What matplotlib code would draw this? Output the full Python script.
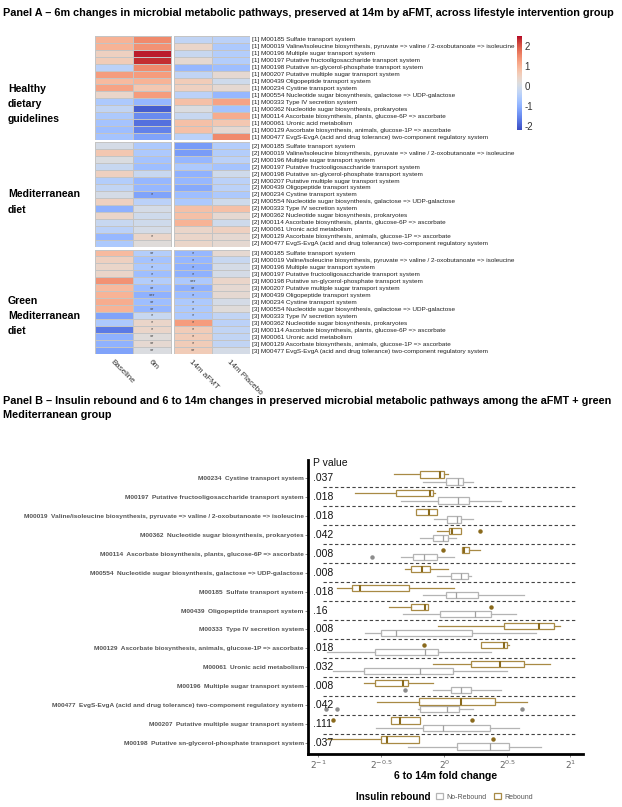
import numpy as np
import matplotlib
matplotlib.use('Agg')
import matplotlib.pyplot as plt
from matplotlib.patches import Patch
from matplotlib.colors import Normalize
from matplotlib.cm import ScalarMappable

plt.rcParams['font.family'] = ['Liberation Sans', 'DejaVu Sans']

# ---------------- data ----------------
modules = ["M00185", "M00019", "M00196", "M00197", "M00198", "M00207", "M00439", "M00234",
           "M00554", "M00333", "M00362", "M00114", "M00061", "M00129", "M00477"]
names = ["Sulfate transport system",
         "Valine/isoleucine biosynthesis, pyruvate => valine / 2-oxobutanoate => isoleucine",
         "Multiple sugar transport system",
         "Putative fructooligosaccharide transport system",
         "Putative sn-glycerol-phosphate transport system",
         "Putative multiple sugar transport system",
         "Oligopeptide transport system",
         "Cystine transport system",
         "Nucleotide sugar biosynthesis, galactose => UDP-galactose",
         "Type IV secretion system",
         "Nucleotide sugar biosynthesis, prokaryotes",
         "Ascorbate biosynthesis, plants, glucose-6P => ascorbate",
         "Uronic acid metabolism",
         "Ascorbate biosynthesis, animals, glucose-1P => ascorbate",
         "EvgS-EvgA (acid and drug tolerance) two-component regulatory system"]
group_labels = ["Healthy\ndietary\nguidelines", "Mediterranean\ndiet", "Green\nMediterranean\ndiet"]
columns = ["Baseline", "6m", "14m aFMT", "14m Placebo"]

# heatmap values: Baseline, 6m, 14m aFMT, 14m Placebo
hm_group1 = [
    [1.0, 1.5, -0.3, -0.4],
    [1.0, 1.4, 0.4, -0.6],
    [0.5, 2.4, -0.2, -0.5],
    [0.6, 2.3, 0.3, -0.5],
    [-0.4, 1.5, -0.9, -0.8],
    [1.3, 1.3, -0.3, 0.3],
    [0.9, 1.0, 0.6, -0.1],
    [1.2, 0.7, 0.5, 0.3],
    [0.4, 1.3, -0.4, -0.9],
    [-0.6, -0.9, 0.8, 1.2],
    [-0.3, -2.0, 0.1, -0.7],
    [-0.6, -1.5, -0.2, 1.1],
    [-0.7, -1.8, 0.8, 0.7],
    [-0.8, -1.6, 0.8, 0.3],
    [-0.7, -1.2, -0.4, 1.5],
]
hm_group2 = [
    [0.0, -0.6, -1.3, -0.5],
    [0.7, -0.6, -1.3, -0.5],
    [0.1, -0.7, -0.9, -0.4],
    [-0.2, -0.8, -0.6, -0.7],
    [0.5, -0.2, -1.0, -0.1],
    [-0.5, -0.9, -0.9, -0.4],
    [-0.3, -0.9, -1.1, -0.4],
    [0.0, -1.2, -0.8, -0.6],
    [0.5, -0.4, -0.6, -0.1],
    [-1.0, 0.0, 0.8, 0.8],
    [0.4, -0.1, 0.8, 0.3],
    [-0.2, -0.1, 1.0, -0.1],
    [-0.4, 0.0, 0.4, 0.5],
    [-0.9, 0.4, 0.4, 0.3],
    [-0.6, 0.2, 0.4, 0.3],
]
hm_group3 = [
    [0.9, -0.5, -0.9, 0.3],
    [0.5, -0.7, -0.9, -0.2],
    [0.4, -0.6, -1.0, 0.0],
    [0.4, -0.8, -1.0, 0.0],
    [1.4, -0.5, -0.6, 0.4],
    [0.9, -0.8, -1.0, 0.3],
    [1.0, -1.0, -0.8, 0.3],
    [1.1, -0.8, -0.6, 0.0],
    [1.0, -0.9, -0.6, 0.2],
    [-1.2, -0.2, -0.6, -0.3],
    [-0.6, 0.4, 1.3, -0.4],
    [-1.7, 0.4, 0.6, -0.3],
    [-1.0, 0.2, 0.6, -0.3],
    [-1.0, 0.3, 0.6, -0.3],
    [-1.2, 0.1, 0.6, 0.0],
]
# significance marks (6m, 14m aFMT)
stars_group1 = [("", "")] * 15
stars_group2 = [("", ""), ("", ""), ("", ""), ("", ""), ("", ""), ("", ""), ("", ""), ("*", ""),
                ("", ""), ("", ""), ("", ""), ("", ""), ("", ""), ("*", ""), ("", "")]
stars_group3 = [("**", "*"), ("*", "*"), ("*", "*"), ("*", "*"), ("*", "***"), ("**", "**"),
                ("***", "*"), ("**", "*"), ("**", "*"), ("*", "*"), ("*", "*"), ("*", "*"),
                ("**", "*"), ("**", "*"), ("**", "**")]

# Panel B
b_modules = ["M00234", "M00197", "M00019", "M00362", "M00114", "M00554", "M00185", "M00439",
             "M00333", "M00129", "M00061", "M00196", "M00477", "M00207", "M00198"]
p_values = [".037", ".018", ".018", ".042", ".008", ".008", ".018", ".16", ".008", ".018",
            ".032", ".008", ".042", ".111", ".037"]
# log2 fold change: whisker low, q1, median, q3, whisker high
rebound_stats = [
    [-0.40, -0.19, -0.03, 0.00, 0.03],
    [-0.71, -0.38, -0.11, -0.09, -0.07],
    [-0.22, -0.22, -0.12, -0.06, -0.06],
    [-0.06, 0.04, 0.06, 0.13, 0.13],
    [0.14, 0.14, 0.16, 0.20, 0.28],
    [-0.31, -0.26, -0.18, -0.11, 0.03],
    [-0.85, -0.73, -0.67, -0.28, 0.08],
    [-0.44, -0.26, -0.15, -0.13, -0.13],
    [-0.05, 0.47, 0.75, 0.87, 0.92],
    [0.29, 0.29, 0.47, 0.50, 0.51],
    [-0.09, 0.21, 0.44, 0.63, 0.84],
    [-0.64, -0.55, -0.33, -0.29, -0.09],
    [-0.53, -0.20, 0.13, 0.40, 0.66],
    [-0.42, -0.42, -0.35, -0.19, -0.19],
    [-0.93, -0.50, -0.45, -0.20, -0.20],
]
rebound_outliers = [[], [], [], [0.28], [-0.01], [], [], [0.37], [], [-0.16], [], [], [],
                    [-0.88, 0.22], [0.39]]
norebound_stats = [
    [-0.17, 0.01, 0.11, 0.15, 0.23],
    [-0.34, -0.05, 0.11, 0.20, 0.45],
    [-0.08, 0.02, 0.10, 0.13, 0.23],
    [-0.19, -0.09, -0.01, 0.03, 0.09],
    [-0.34, -0.25, -0.16, -0.06, 0.08],
    [-0.06, 0.05, 0.13, 0.19, 0.21],
    [-0.17, 0.01, 0.09, 0.27, 0.63],
    [-0.33, -0.03, 0.24, 0.37, 0.57],
    [-0.63, -0.50, -0.38, 0.22, 0.73],
    [-0.93, -0.55, -0.15, -0.05, 0.37],
    [-0.88, -0.64, -0.19, 0.07, 0.50],
    [-0.09, 0.05, 0.13, 0.21, 0.45],
    [-0.21, -0.19, 0.02, 0.12, 0.23],
    [-0.54, -0.17, -0.01, 0.36, 0.59],
    [-0.29, 0.10, 0.36, 0.51, 0.77],
]
norebound_outliers = [[], [], [], [], [-0.57], [], [], [], [], [], [], [-0.31],
                      [-0.94, -0.85, 0.62], [], []]
x_ticks = [-1, -0.5, 0, 0.5, 1]
x_tick_labels = ["$2^{-1}$", "$2^{-0.5}$", "$2^{0}$", "$2^{0.5}$", "$2^{1}$"]

# ---------------- figure ----------------
W, H = 622, 807
fig = plt.figure(figsize=(W / 100, H / 100), dpi=100)


def ax_px(x0, y0, x1, y1):
    return fig.add_axes([x0 / W, 1 - y1 / H, (x1 - x0) / W, (y1 - y0) / H])


fig.text(3 / W, 1 - 13 / H,
         "Panel A \u2013 6m changes in microbial metabolic pathways, preserved at 14m by aFMT, across lifestyle intervention group",
         fontsize=7.85, fontweight='bold', va='center', ha='left')

cmap = plt.get_cmap('coolwarm')
norm = Normalize(vmin=-2.2, vmax=2.5)
gap = 0.08
tops = [35.7, 142.2, 249.5]
ghgt = 104.5
all_hm = [hm_group1, hm_group2, hm_group3]
all_stars = [stars_group1, stars_group2, stars_group3]
group_label_y = [104, 202, 316]

for gi in range(3):
    ax = ax_px(95, tops[gi], 250, tops[gi] + ghgt)
    v = np.array(all_hm[gi])
    n = v.shape[0]
    ax.pcolormesh([0, 1, 2], np.arange(n + 1), v[:, :2], cmap=cmap, norm=norm,
                  edgecolors='#c4c4c4', linewidth=0.5)
    ax.pcolormesh([2 + gap, 3 + gap, 4 + gap], np.arange(n + 1), v[:, 2:], cmap=cmap, norm=norm,
                  edgecolors='#c4c4c4', linewidth=0.5)
    ax.set_xlim(0, 4 + gap)
    ax.set_ylim(n, 0)
    for s in ax.spines.values():
        s.set_visible(False)
    for r, (s6, sa) in enumerate(all_stars[gi]):
        if s6:
            ax.text(1.5, r + 0.55, s6, ha='center', va='center', fontsize=4, color='#444444')
        if sa:
            ax.text(2 + gap + 0.5, r + 0.55, sa, ha='center', va='center', fontsize=4, color='#444444')
    ax.yaxis.tick_right()
    ax.set_yticks(np.arange(n) + 0.5)
    ax.set_yticklabels([f"[{gi + 1}] {m} {nm}" for m, nm in zip(modules, names)],
                       fontsize=4.55, color='#222222')
    ax.tick_params(axis='y', length=0, pad=1.5)
    if gi == 2:
        ax.set_xticks([0.5, 1.5, 2.5 + gap, 3.5 + gap])
        ax.set_xticklabels(columns, rotation=-45, ha='left', va='top', rotation_mode='anchor',
                           fontsize=5.8, color='#333333')
        ax.tick_params(axis='x', length=0, pad=3)
    else:
        ax.set_xticks([])
    fig.text(8 / W, 1 - group_label_y[gi] / H, group_labels[gi], fontsize=7.6, fontweight='bold',
             ha='left', va='center', linespacing=1.65)

cax = ax_px(517, 36, 522, 130)
cb = fig.colorbar(ScalarMappable(norm=norm, cmap=cmap), cax=cax, ticks=[-2, -1, 0, 1, 2])
cb.outline.set_visible(False)
cb.ax.tick_params(length=0, labelsize=7, pad=2, labelcolor='#333333')
cb.ax.set_yticklabels(["-2", "-1", "0", "1", "2"])

# ---------------- Panel B ----------------
fig.text(3 / W, 1 - 396 / H,
         "Panel B \u2013 Insulin rebound and 6 to 14m changes in preserved microbial metabolic pathways among the aFMT + green\nMediterranean group",
         fontsize=7.85, fontweight='bold', va='top', ha='left', linespacing=1.45)

bx = ax_px(308, 460, 583, 754)
name_map = dict(zip(modules, names))
n_b = len(b_modules)
pos = np.arange(n_b)
gold = '#A88A45'
gold_dark = '#8A6A1C'
grey = '#B4B4B4'


def make_stats(stats, outl):
    out = []
    for s, o in zip(stats, outl):
        out.append(dict(whislo=s[0], q1=s[1], med=s[2], q3=s[3], whishi=s[4], fliers=o))
    return out


def draw_bxp(stats, positions, color, medcolor, medlw, fcol):
    kw = dict(positions=positions, widths=0.33, showcaps=False, patch_artist=True,
              boxprops=dict(facecolor='white', edgecolor=color, linewidth=0.9),
              whiskerprops=dict(color=color, linewidth=0.9),
              medianprops=dict(color=medcolor, linewidth=medlw),
              flierprops=dict(marker='o', markerfacecolor=fcol, markeredgecolor=fcol, markersize=2.2))
    try:
        bx.bxp(stats, orientation='horizontal', **kw)
    except TypeError:
        bx.bxp(stats, vert=False, **kw)


draw_bxp(make_stats(norebound_stats, norebound_outliers), pos + 0.19, grey, '#A0A0A0', 0.9, '#8C8C8C')
draw_bxp(make_stats(rebound_stats, rebound_outliers), pos - 0.19, gold, gold_dark, 1.5, gold_dark)

bx.hlines(pos[:-1] + 0.5, -0.96, 1.05, colors='#444444', linestyles=(0, (3, 2.2)), linewidth=0.8)
for i, p in enumerate(p_values):
    bx.text(-1.04, pos[i], p, fontsize=7.5, ha='left', va='center', color='#111111')
bx.text(-1.04, -0.79, "P value", fontsize=7.5, ha='left', va='center', color='#111111')

bx.set_xlim(-1.08, 1.10)
bx.set_ylim(n_b - 1 + 0.58, -0.95)
bx.set_yticks(pos)
bx.set_yticklabels([f"{m}  {name_map[m]}" for m in b_modules], fontsize=4.65, fontweight='bold',
                   color='#555555')
bx.tick_params(axis='y', length=2, width=0.6, color='#777777', pad=1)
bx.set_xticks(x_ticks)
bx.set_xticklabels(x_tick_labels, fontsize=6.5, color='#666666')
bx.tick_params(axis='x', length=2, width=0.6, color='#777777', pad=1.5)
bx.spines['top'].set_visible(False)
bx.spines['right'].set_visible(False)
bx.spines['left'].set_linewidth(2)
bx.spines['bottom'].set_linewidth(2)
bx.set_xlabel("6 to 14m fold change", fontsize=7.5, fontweight='bold', labelpad=0)

fig.text(393 / W, 1 - 797 / H, "Insulin rebound", fontsize=7.1, fontweight='bold', ha='center', va='center')
handles = [Patch(facecolor='white', edgecolor=grey, linewidth=0.9, label='No-Rebound'),
           Patch(facecolor='white', edgecolor=gold, linewidth=0.9, label='Rebound')]
fig.legend(handles=handles, loc='center left', bbox_to_anchor=(430 / W, 1 - 797 / H), ncol=2,
           frameon=False, fontsize=5.0, handlelength=1.0, handleheight=1.0, handletextpad=0.5,
           columnspacing=1.0, labelcolor='#555555')

fig.savefig('out.png', dpi=100)
